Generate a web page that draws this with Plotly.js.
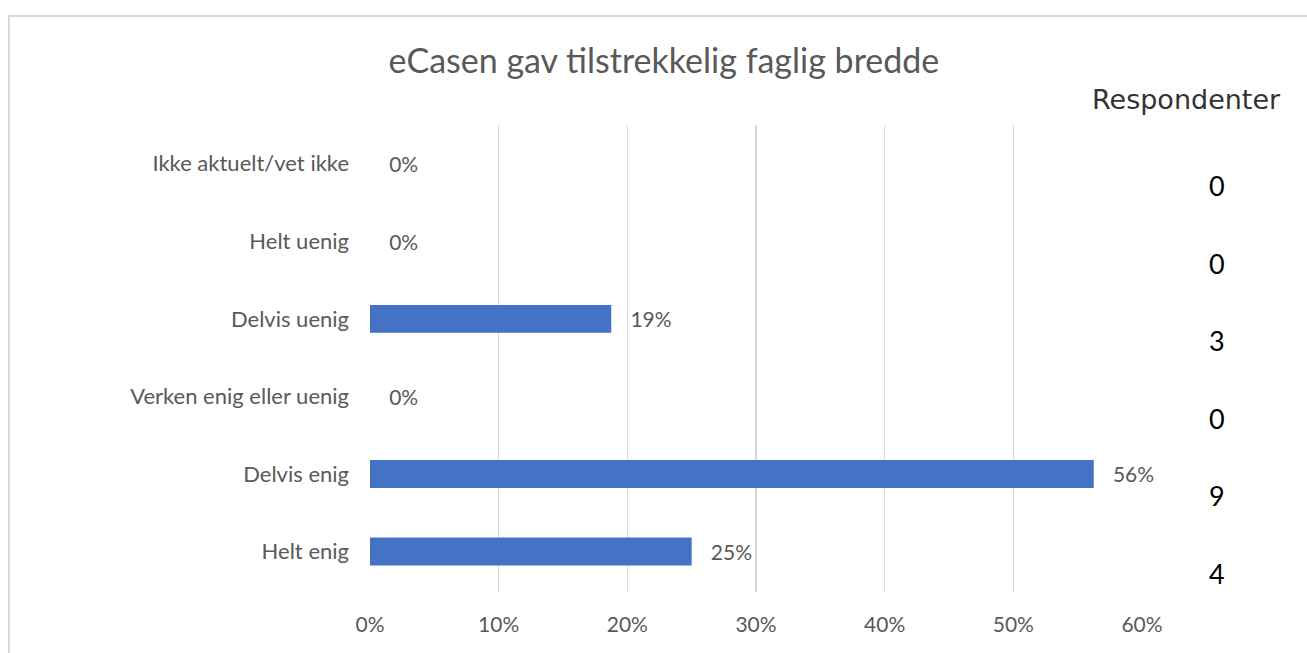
<!DOCTYPE html>
<html>
<head>
<meta charset="utf-8">
<script src="https://cdn.plot.ly/plotly-3.0.1.min.js"></script>
<style>
  html, body { margin: 0; padding: 0; background: #fff; overflow: hidden; }
  #frame { position: absolute; left: 8px; top: 15px; width: 1400px; height: 700px;
           border-top: 2px solid #d9d9d9; border-left: 2px solid #d9d9d9; }
  #chart { position: absolute; left: 0; top: 0; width: 1307px; height: 653px; }
</style>
</head>
<body>
<div id="frame"></div>
<div id="chart"></div>
<script>
const categories = ["Helt enig", "Delvis enig", "Verken enig eller uenig", "Delvis uenig", "Helt uenig", "Ikke aktuelt/vet ikke"];
const percentValues = [25, 56.25, 0, 18.75, 0, 0];
const percentLabels = ["25%", "56%", "0%", "19%", "0%", "0%"];
const respondents = [4, 9, 0, 3, 0, 0];
const xTickVals = [0, 10, 20, 30, 40, 50, 60];
const xTickText = ["0%", "10%", "20%", "30%", "40%", "50%", "60%"];

const FONT = "Lato, 'Noto Sans', sans-serif";

const trace = {
  type: "bar",
  orientation: "h",
  y: categories,
  x: percentValues,
  text: percentLabels,
  texttemplate: "\u00a0\u00a0\u00a0%{text}",
  textposition: "outside",
  cliponaxis: false,
  textfont: { family: FONT, size: 21, color: "#595959" },
  marker: { color: "#4472c4" },
  width: 0.36,
  hoverinfo: "none"
};

const annotations = respondents.map((v, i) => ({
  xref: "paper", yref: "y",
  x: 1.097, y: categories[i],
  xanchor: "center", yanchor: "middle",
  yshift: -22,
  text: String(v),
  showarrow: false,
  font: { family: FONT, size: 27, color: "#000" }
}));
annotations.push({
  xref: "paper", yref: "paper",
  x: 1.057, y: 1.054,
  xanchor: "center", yanchor: "middle",
  text: "Respondenter",
  showarrow: false,
  font: { family: "'DejaVu Sans', sans-serif", size: 27, color: "#333333" }
});

const layout = {
  width: 1307, height: 653,
  margin: { l: 370, r: 165, t: 125, b: 61 },
  paper_bgcolor: "rgba(0,0,0,0)",
  plot_bgcolor: "rgba(0,0,0,0)",
  showlegend: false,
  title: {
    text: "eCasen gav tilstrekkelig faglig bredde",
    x: 0.508, xanchor: "center",
    y: 0.906, yanchor: "middle",
    font: { family: FONT, size: 34, color: "#595959" }
  },
  xaxis: {
    range: [0, 60],
    tickvals: xTickVals,
    ticktext: xTickText,
    showgrid: true,
    gridcolor: "#d9d9d9",
    gridwidth: 1.5,
    zeroline: false,
    showline: false,
    ticks: "",
    ticklabelstandoff: 18,
    tickfont: { family: FONT, size: 21, color: "#595959" },
    fixedrange: true
  },
  yaxis: {
    type: "category",
    categoryorder: "array",
    categoryarray: categories,
    showgrid: false,
    zeroline: false,
    showline: false,
    ticks: "",
    ticklabelstandoff: 20,
    tickfont: { family: FONT, size: 22, color: "#595959" },
    fixedrange: true
  },
  annotations: annotations
};

Plotly.newPlot("chart", [trace], layout, { displayModeBar: false, staticPlot: true });
</script>
</body>
</html>
